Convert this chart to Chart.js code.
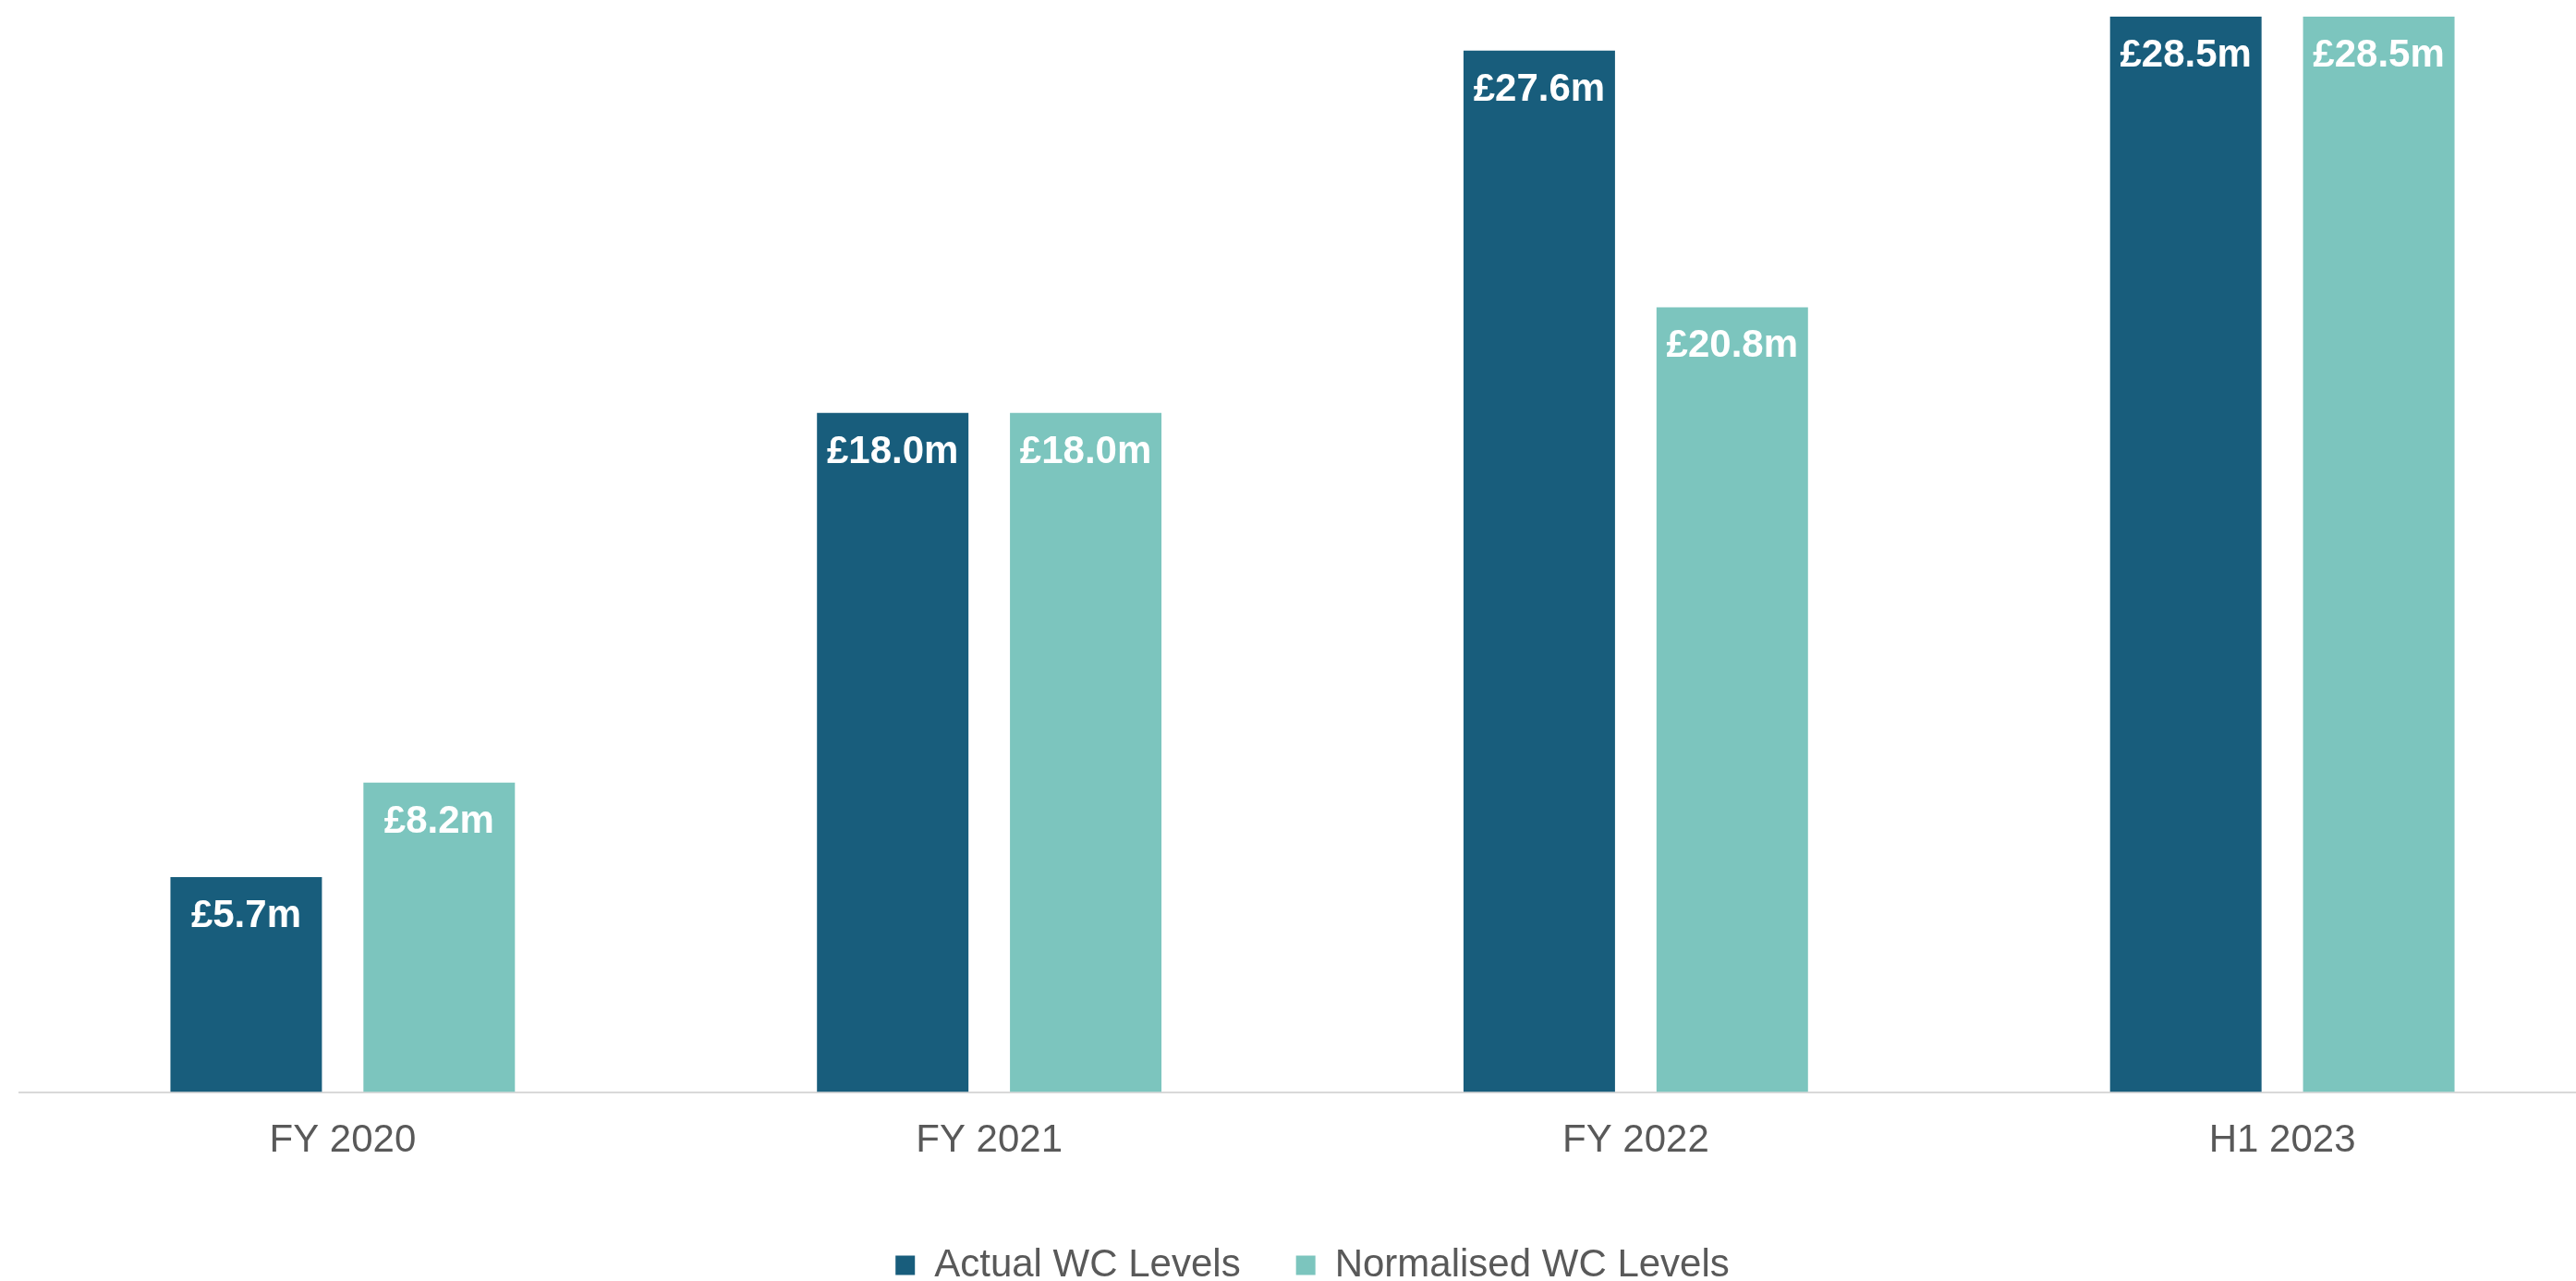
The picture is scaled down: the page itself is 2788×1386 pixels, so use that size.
<!DOCTYPE html>
<html>
<head>
<meta charset="utf-8">
<script src="https://cdn.jsdelivr.net/npm/chart.js"></script>
<style>
  html, body { margin: 0; padding: 0; background: #ffffff; overflow: hidden; }
  #wrap { width: 2854px; height: 1400px; }
</style>
</head>
<body>
<div id="wrap"><canvas id="wcChart"></canvas></div>
<script>
const categories = ["FY 2020", "FY 2021", "FY 2022", "H1 2023"];
const actualWC = [5.7, 18.0, 27.6, 28.5];
const normalisedWC = [8.2, 18.0, 20.8, 28.5];
const seriesNames = ["Actual WC Levels", "Normalised WC Levels"];

const FONT = "'Liberation Sans', Arial, sans-serif";

// white £ labels just inside the top of each bar
const barLabels = {
  id: "barLabels",
  afterDatasetsDraw(chart) {
    const ctx = chart.ctx;
    ctx.save();
    ctx.fillStyle = "#ffffff";
    ctx.font = "bold 42px " + FONT;
    ctx.textAlign = "center";
    ctx.textBaseline = "alphabetic";
    chart.data.datasets.forEach((ds, i) => {
      chart.getDatasetMeta(i).data.forEach((bar, j) => {
        ctx.fillText("£" + ds.data[j].toFixed(1) + "m", bar.x, bar.y + 54);
      });
    });
    ctx.restore();
  },
};

const ctx = document.getElementById("wcChart").getContext("2d");
const wcChart = new Chart(ctx, {
  type: "bar",
  data: {
    labels: categories,
    datasets: [
      {
        label: seriesNames[0],
        data: actualWC,
        backgroundColor: "#185d7c",
        categoryPercentage: 0.597,
        barPercentage: 0.785,
      },
      {
        label: seriesNames[1],
        data: normalisedWC,
        backgroundColor: "#7cc5be",
        categoryPercentage: 0.597,
        barPercentage: 0.785,
      },
    ],
  },
  options: {
    responsive: true,
    maintainAspectRatio: false,
    animation: false,
    layout: {
      padding: { left: 21, right: 34, top: 18, bottom: 0 },
    },
    scales: {
      x: {
        grid: { display: false, drawTicks: false },
        border: { display: true, color: "#d9d9d9", width: 2 },
        ticks: {
          color: "#595959",
          padding: 28,
          font: { family: FONT, size: 42 },
        },
      },
      y: {
        display: false,
        beginAtZero: true,
        min: 0,
        max: 28.5,
      },
    },
    plugins: {
      legend: {
        position: "bottom",
        labels: {
          color: "#595959",
          boxWidth: 21,
          boxHeight: 21,
          padding: 60,
          font: { family: FONT, size: 42 },
        },
      },
      tooltip: { enabled: false },
    },
  },
  plugins: [barLabels],
});
</script>
</body>
</html>
